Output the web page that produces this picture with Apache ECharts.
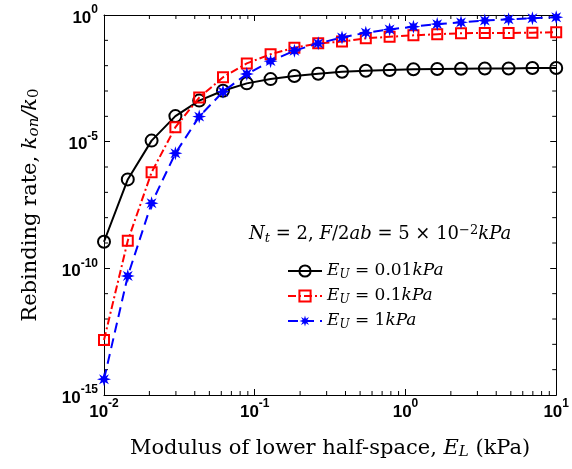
<!DOCTYPE html>
<html>
<head>
<meta charset="utf-8">
<script src="https://cdn.jsdelivr.net/npm/echarts@6/dist/echarts.min.js"></script>
<style>
  html, body { margin: 0; padding: 0; background: #fff; }
</style>
</head>
<body>
<div id="chart" style="width:572px;height:469px;"></div>
<script>
  // E_L values (kPa), logspace(-2, 1, 20)
  var modulusEL = [0.01, 0.01438, 0.02069, 0.02976, 0.04281, 0.06158, 0.08859, 0.1274, 0.1833, 0.2637,
    0.3793, 0.5456, 0.7848, 1.129, 1.624, 2.336, 3.360, 4.833, 6.952, 10];
  // rebinding rate k_on/k_0
  var rateEU001 = [1.12e-9, 3.24e-7, 1.10e-5, 1.02e-4, 4.17e-4, 1.02e-3, 2.0e-3, 2.95e-3, 3.89e-3, 4.79e-3,
    5.75e-3, 6.3e-3, 6.76e-3, 7.24e-3, 7.41e-3, 7.59e-3, 7.76e-3, 7.76e-3, 8.13e-3, 8.13e-3];
  var rateEU01 = [1.48e-13, 1.23e-9, 6.17e-7, 3.72e-5, 5.5e-4, 3.47e-3, 1.23e-2, 2.82e-2, 5.13e-2, 7.59e-2,
    8.91e-2, 0.120, 0.138, 0.158, 0.174, 0.191, 0.195, 0.195, 0.200, 0.209];
  var rateEU1 = [4.17e-15, 5.0e-11, 3.72e-8, 3.47e-6, 9.77e-5, 9.33e-4, 4.68e-3, 1.51e-2, 3.89e-2, 7.59e-2,
    0.129, 0.200, 0.269, 0.347, 0.437, 0.513, 0.603, 0.676, 0.741, 0.813];
  // minor ticks: x at 2..9 in each decade, y at every decade between the labelled ones
  var xMinorTicks = [0.02, 0.03, 0.04, 0.05, 0.06, 0.07, 0.08, 0.09,
    0.2, 0.3, 0.4, 0.5, 0.6, 0.7, 0.8, 0.9, 2, 3, 4, 5, 6, 7, 8, 9];
  var yMinorTicks = [1e-14, 1e-13, 1e-12, 1e-11, 1e-9, 1e-8, 1e-7, 1e-6, 1e-4, 1e-3, 1e-2, 1e-1];

  function pairs(ys) {
    return modulusEL.map(function (x, i) { return [x, ys[i]]; });
  }

  var serif = '"DejaVu Serif", "Liberation Serif", serif';
  function makeRich(fs) {
    var small = Math.round(fs * 0.7);
    return {
      i: { fontFamily: serif, fontStyle: 'italic', fontSize: fs, color: '#000' },
      r: { fontFamily: serif, fontSize: fs, color: '#000' },
      sub: { fontFamily: serif, fontStyle: 'italic', fontSize: small, color: '#000', verticalAlign: 'bottom', padding: [8, 0, 0, 0] },
      subr: { fontFamily: serif, fontSize: small, color: '#000', verticalAlign: 'bottom', padding: [8, 0, 0, 0] },
      sup: { fontFamily: serif, fontSize: small, color: '#000', verticalAlign: 'top' }
    };
  }
  var titleRich = makeRich(21);
  var noteRich = makeRich(18);
  var legendRich = makeRich(17);
  var tickRich = {
    b: { fontFamily: 'Liberation Sans, Arial, sans-serif', fontWeight: 'bold', fontSize: 17, color: '#000', lineHeight: 22, padding: [6, 0, 0, 0] },
    s: { fontFamily: 'Liberation Sans, Arial, sans-serif', fontWeight: 'bold', fontSize: 12, color: '#000', verticalAlign: 'top' }
  };
  function powLabel(v) {
    var e = Math.round(Math.log(v) / Math.LN10);
    return '{b|10}{s|' + e + '}';
  }

  var starPath = (function () {
    var pts = [];
    for (var k = 0; k < 16; k++) {
      var a = Math.PI * k / 8;
      var r = k % 2 === 0 ? 10 : 4.5;
      pts.push((10 + r * Math.sin(a)).toFixed(2) + ',' + (10 - r * Math.cos(a)).toFixed(2));
    }
    return 'path://M' + pts.join('L') + 'Z';
  })();

  var chart = echarts.init(document.getElementById('chart'), null, { renderer: 'canvas' });
  var axisLine = { show: true, lineStyle: { color: '#000', width: 1 } };
  var majorTick = { inside: true, length: 6, lineStyle: { color: '#000' } };

  function tickLine(x1, y1, x2, y2) {
    return { type: 'line', shape: { x1: x1, y1: y1, x2: x2, y2: y2 }, style: { stroke: '#000', lineWidth: 1 } };
  }

  var option = {
    backgroundColor: '#fff',
    animation: false,
    grid: { left: 104, right: 15, top: 15, bottom: 74 },
    legend: {
      orient: 'vertical',
      left: 287,
      top: 261,
      padding: 0,
      itemWidth: 34,
      itemHeight: 14,
      itemGap: 5,
      textStyle: { rich: legendRich, lineHeight: 20 },
      formatter: function (name) {
        var val = { a: '0.01', b: '0.1', c: '1' }[name];
        return '{i|E}{sub|U}{r| = ' + val + '}{i|kPa}';
      },
      data: ['a', 'b', 'c']
    },
    xAxis: [{
      type: 'log', logBase: 10, min: 0.01, max: 10, interval: 1,
      axisLine: axisLine,
      axisTick: majorTick,
      splitLine: { show: false },
      axisLabel: { margin: 3, formatter: powLabel, rich: tickRich },
      name: '{r|Modulus of lower half-space, }{i|E}{sub|L}{r| (kPa)}',
      nameLocation: 'middle',
      nameGap: 42,
      nameTextStyle: { rich: titleRich }
    }, {
      type: 'log', logBase: 10, min: 0.01, max: 10, interval: 1, position: 'top',
      axisLine: axisLine,
      axisTick: majorTick,
      splitLine: { show: false },
      axisLabel: { show: false }
    }],
    yAxis: [{
      type: 'log', logBase: 10, min: 1e-15, max: 1, interval: 5,
      axisLine: axisLine,
      axisTick: majorTick,
      splitLine: { show: false },
      axisLabel: { margin: 6, formatter: powLabel, rich: tickRich },
      name: '{r|Rebinding rate, }{i|k}{sub|on}{i|/k}{subr|0}',
      nameLocation: 'middle',
      nameGap: 62,
      nameTextStyle: { rich: titleRich }
    }, {
      type: 'log', logBase: 10, min: 1e-15, max: 1, interval: 5, position: 'right',
      axisLine: axisLine,
      axisTick: majorTick,
      splitLine: { show: false },
      axisLabel: { show: false }
    }],
    graphic: [{
      type: 'text',
      left: 249,
      top: 224,
      style: {
        text: '{i|N}{sub|t}{r| = 2, }{i|F}{r|/2}{i|ab}{r| = 5 × 10}{sup|−2}{i|kPa}',
        rich: noteRich
      }
    }],
    series: [{
      type: 'custom',
      silent: true,
      data: xMinorTicks.map(function (v) { return [v, 1]; }),
      renderItem: function (params, api) {
        var cs = params.coordSys;
        var x = api.coord([api.value(0), 1])[0];
        var bottom = cs.y + cs.height;
        return { type: 'group', children: [tickLine(x, bottom, x, bottom - 4), tickLine(x, cs.y, x, cs.y + 4)] };
      }
    }, {
      type: 'custom',
      silent: true,
      data: yMinorTicks.map(function (v) { return [1, v]; }),
      renderItem: function (params, api) {
        var cs = params.coordSys;
        var y = api.coord([1, api.value(1)])[1];
        var right = cs.x + cs.width;
        return { type: 'group', children: [tickLine(cs.x, y, cs.x + 4, y), tickLine(right, y, right - 4, y)] };
      }
    }, {
      name: 'a', type: 'line', data: pairs(rateEU001),
      symbol: 'circle', symbolSize: 12,
      lineStyle: { color: '#000', width: 2 },
      itemStyle: { color: 'transparent', borderColor: '#000', borderWidth: 2 },
      z: 3
    }, {
      name: 'b', type: 'line', data: pairs(rateEU01),
      symbol: 'rect', symbolSize: 10,
      lineStyle: { color: '#ff0000', width: 2, type: [8, 3, 2, 3] },
      itemStyle: { color: 'transparent', borderColor: '#ff0000', borderWidth: 2 },
      z: 4
    }, {
      name: 'c', type: 'line', data: pairs(rateEU1),
      symbol: starPath, symbolSize: 14,
      lineStyle: { color: '#0000ff', width: 2, type: [10, 6] },
      itemStyle: { color: '#0000ff', borderWidth: 0 },
      z: 5
    }]
  };

  chart.setOption(option);
  window.addEventListener('resize', function () { chart.resize(); });
</script>
</body>
</html>
